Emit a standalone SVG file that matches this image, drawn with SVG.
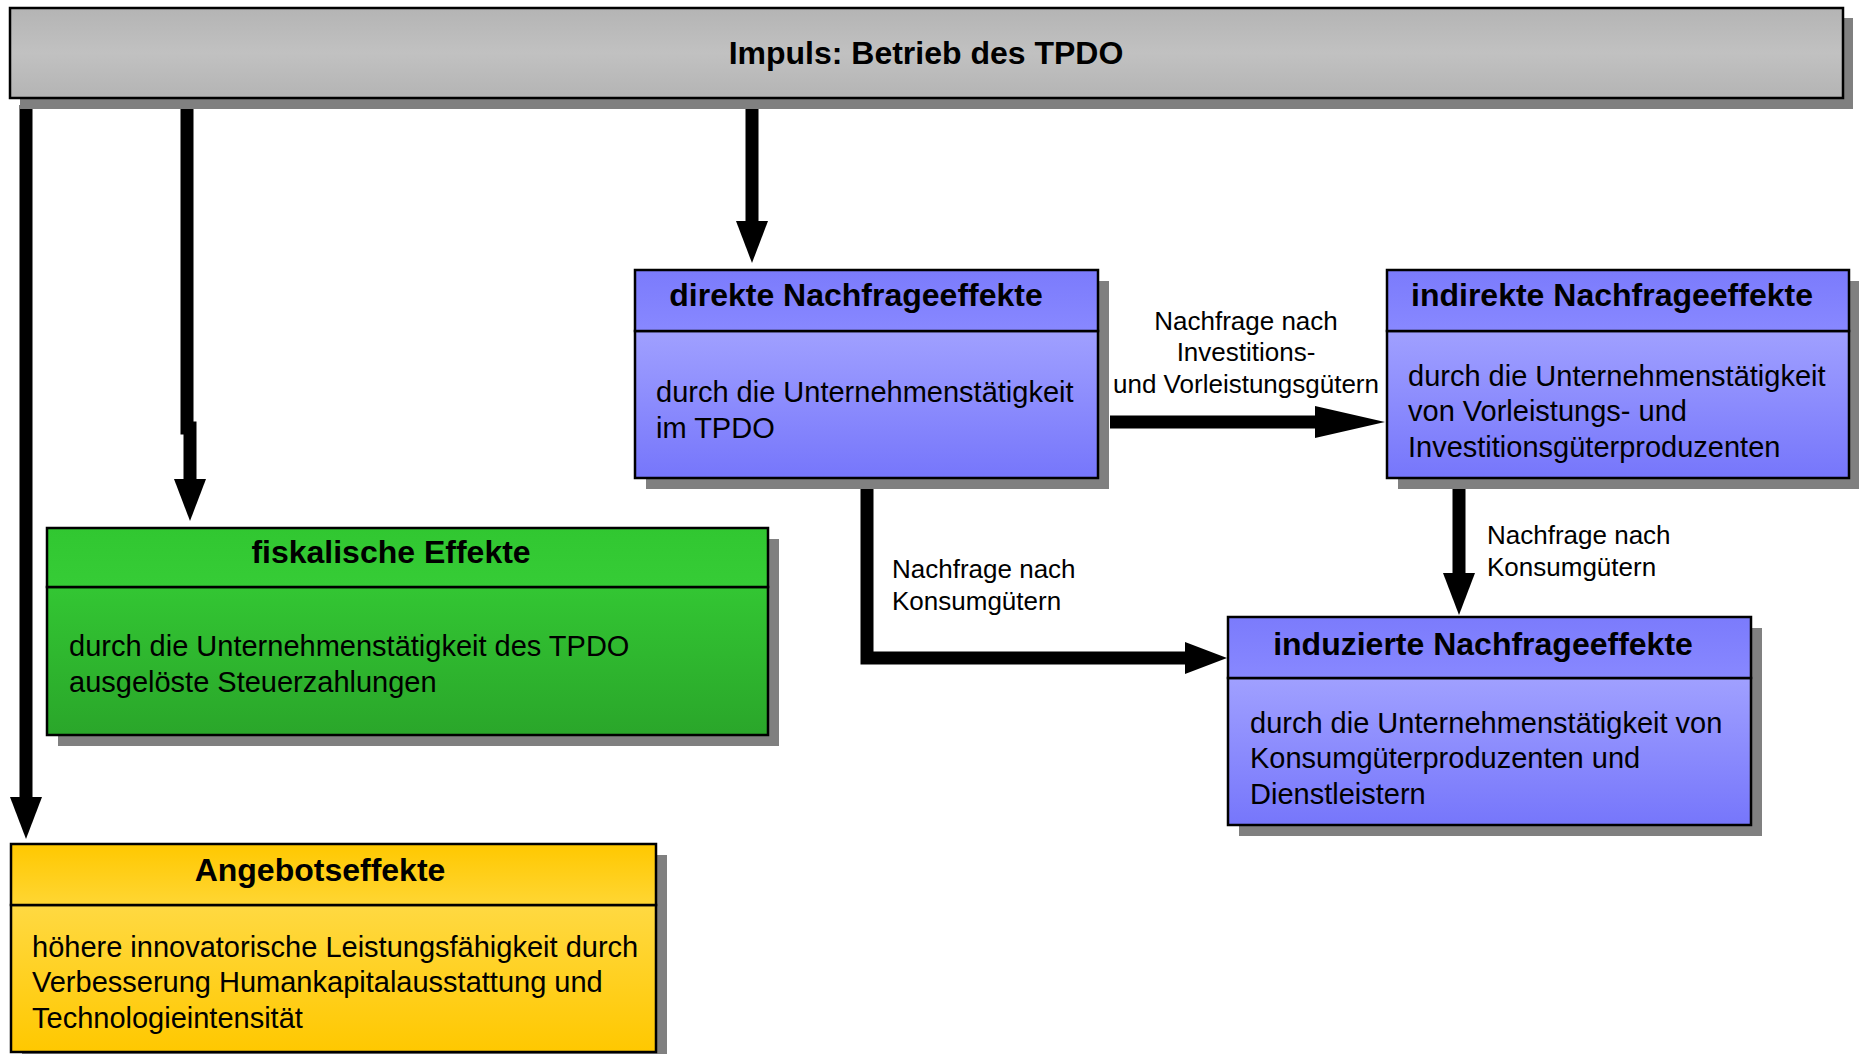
<svg xmlns="http://www.w3.org/2000/svg" width="1859" height="1054" viewBox="0 0 1859 1054">
<defs>
<linearGradient id="gGray" x1="0" y1="0" x2="0" y2="1"><stop offset="0" stop-color="#b4b4b4"/><stop offset="0.5" stop-color="#c1c1c1"/><stop offset="1" stop-color="#b4b4b4"/></linearGradient>
<linearGradient id="gBlueH" x1="0" y1="0" x2="0" y2="1"><stop offset="0" stop-color="#7b7bfc"/><stop offset="1" stop-color="#8888ff"/></linearGradient>
<linearGradient id="gBlueB" x1="0" y1="0" x2="0" y2="1"><stop offset="0" stop-color="#a0a0ff"/><stop offset="1" stop-color="#7676fb"/></linearGradient>
<linearGradient id="gGreenH" x1="0" y1="0" x2="0" y2="1"><stop offset="0" stop-color="#31c731"/><stop offset="1" stop-color="#36cc36"/></linearGradient>
<linearGradient id="gGreenB" x1="0" y1="0" x2="0" y2="1"><stop offset="0" stop-color="#33c633"/><stop offset="1" stop-color="#2aa62a"/></linearGradient>
<linearGradient id="gYellowH" x1="0" y1="0" x2="0" y2="1"><stop offset="0" stop-color="#ffc800"/><stop offset="1" stop-color="#ffd633"/></linearGradient>
<linearGradient id="gYellowB" x1="0" y1="0" x2="0" y2="1"><stop offset="0" stop-color="#ffd942"/><stop offset="1" stop-color="#ffc800"/></linearGradient>
<marker id="ah" markerUnits="userSpaceOnUse" markerWidth="42" markerHeight="32" refX="0" refY="16" orient="auto"><path d="M0,0 L42,16 L0,32 z" fill="#000"/></marker>
<marker id="ahL" markerUnits="userSpaceOnUse" markerWidth="70" markerHeight="32" refX="0" refY="16" orient="auto"><path d="M0,0 L70,16 L0,32 z" fill="#000"/></marker>
<style>
.sh{fill:#808080}
.bx{stroke:#000;stroke-width:2.5}
.ttl{font-family:"Liberation Sans",Arial,sans-serif;font-weight:bold;font-size:32px;fill:#000;text-anchor:middle}
.bd{font-family:"Liberation Sans",Arial,sans-serif;font-size:29px;fill:#000}
.lb{font-family:"Liberation Sans",Arial,sans-serif;font-size:26px;fill:#000}
.cn{fill:none;stroke:#000;stroke-width:13;marker-end:url(#ah)}
.cnL{fill:none;stroke:#000;stroke-width:13;marker-end:url(#ahL)}
</style>
</defs>
<rect width="1859" height="1054" fill="#fff"/>

<g id="connectors">
<path class="cn" d="M26,105 L26,797"/>
<path class="cn" d="M187,105 L187,428 L190,428 L190,479"/>
<path class="cn" d="M752,105 L752,221"/>
<path class="cnL" d="M1110,422 L1315,422"/>
<path class="cn" d="M867,476 L867,658 L1185,658"/>
<path class="cn" d="M1459,486 L1459,573"/>
</g>

<g id="impuls">
<rect class="sh" x="20" y="18" width="1833" height="91"/>
<rect class="bx" x="10" y="8" width="1833" height="90" fill="url(#gGray)"/>
<text class="ttl" x="926" y="64">Impuls: Betrieb des TPDO</text>
</g>

<g id="direkte">
<rect class="sh" x="646" y="281" width="463" height="208"/>
<rect class="bx" x="635" y="331" width="463" height="147" fill="url(#gBlueB)"/>
<rect class="bx" x="635" y="270" width="463" height="61" fill="url(#gBlueH)"/>
<text class="ttl" x="856" y="306">direkte Nachfrageeffekte</text>
<text class="bd" x="656" y="402">durch die Unternehmenstätigkeit</text>
<text class="bd" x="656" y="438">im TPDO</text>
</g>

<g id="indirekte">
<rect class="sh" x="1398" y="281" width="462" height="208"/>
<rect class="bx" x="1387" y="331" width="462" height="147" fill="url(#gBlueB)"/>
<rect class="bx" x="1387" y="270" width="462" height="61" fill="url(#gBlueH)"/>
<text class="ttl" x="1612" y="306">indirekte Nachfrageeffekte</text>
<text class="bd" x="1408" y="386">durch die Unternehmenstätigkeit</text>
<text class="bd" x="1408" y="421">von Vorleistungs- und</text>
<text class="bd" x="1408" y="457">Investitionsgüterproduzenten</text>
</g>

<g id="fiskalische">
<rect class="sh" x="58" y="539" width="721" height="207"/>
<rect class="bx" x="47" y="587" width="721" height="148" fill="url(#gGreenB)"/>
<rect class="bx" x="47" y="528" width="721" height="59" fill="url(#gGreenH)"/>
<text class="ttl" x="391" y="563">fiskalische Effekte</text>
<text class="bd" x="69" y="656">durch die Unternehmenstätigkeit des TPDO</text>
<text class="bd" x="69" y="692">ausgelöste Steuerzahlungen</text>
</g>

<g id="induzierte">
<rect class="sh" x="1239" y="628" width="523" height="208"/>
<rect class="bx" x="1228" y="678" width="523" height="147" fill="url(#gBlueB)"/>
<rect class="bx" x="1228" y="617" width="523" height="61" fill="url(#gBlueH)"/>
<text class="ttl" x="1483" y="655">induzierte Nachfrageeffekte</text>
<text class="bd" x="1250" y="733">durch die Unternehmenstätigkeit von</text>
<text class="bd" x="1250" y="768">Konsumgüterproduzenten und</text>
<text class="bd" x="1250" y="804">Dienstleistern</text>
</g>

<g id="angebot">
<rect class="sh" x="22" y="855" width="645" height="208"/>
<rect class="bx" x="11" y="905" width="645" height="147" fill="url(#gYellowB)"/>
<rect class="bx" x="11" y="844" width="645" height="61" fill="url(#gYellowH)"/>
<text class="ttl" x="320" y="881">Angebotseffekte</text>
<text class="bd" x="32" y="957">höhere innovatorische Leistungsfähigkeit durch</text>
<text class="bd" x="32" y="992">Verbesserung Humankapitalausstattung und</text>
<text class="bd" x="32" y="1028">Technologieintensität</text>
</g>

<g id="labels">
<text class="lb" x="1246" y="330" text-anchor="middle">Nachfrage nach</text>
<text class="lb" x="1246" y="361" text-anchor="middle">Investitions-</text>
<text class="lb" x="1246" y="393" text-anchor="middle">und Vorleistungsgütern</text>
<text class="lb" x="892" y="578">Nachfrage nach</text>
<text class="lb" x="892" y="610">Konsumgütern</text>
<text class="lb" x="1487" y="544">Nachfrage nach</text>
<text class="lb" x="1487" y="576">Konsumgütern</text>
</g>
</svg>
